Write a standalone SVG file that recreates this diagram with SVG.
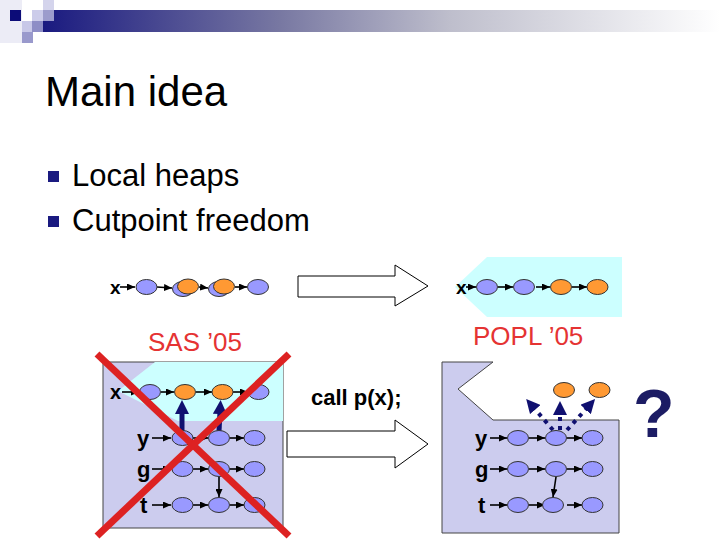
<svg xmlns="http://www.w3.org/2000/svg" width="720" height="540" viewBox="0 0 720 540">
<defs>
<linearGradient id="bar" x1="0" y1="0" x2="1" y2="0">
<stop offset="0" stop-color="#1a1a80"/>
<stop offset="0.35" stop-color="#7878a2"/>
<stop offset="0.6" stop-color="#bebecc"/>
<stop offset="1" stop-color="#ffffff"/>
</linearGradient>
<marker id="ah" markerUnits="userSpaceOnUse" markerWidth="8" markerHeight="7" refX="8" refY="3.5" orient="auto">
<path d="M0,0 L8,3.5 L0,7 z" fill="#000"/>
</marker>
<marker id="nh" markerUnits="userSpaceOnUse" markerWidth="14" markerHeight="14" refX="2" refY="7" orient="auto">
<path d="M0,0 L14,7 L0,14 z" fill="#101070"/>
</marker>
</defs>
<style>
.t{font-family:"Liberation Sans",Arial,sans-serif;fill:#000}
.lb{font-family:"Liberation Sans",Arial,sans-serif;font-weight:bold;font-size:22px;fill:#000}
.p{fill:#9999ff;stroke:#333;stroke-width:1}
.o{fill:#ff9933;stroke:#333;stroke-width:1}
.a{stroke:#000;stroke-width:1.6;fill:none;marker-end:url(#ah)}
.big{fill:#fff;stroke:#000;stroke-width:1}
.thick{stroke:#101070;stroke-width:5;fill:none;marker-end:url(#nh)}
.dot{stroke:#101070;stroke-width:4;stroke-dasharray:4 5;fill:none;marker-end:url(#nh)}
.red{font-family:"Liberation Sans",Arial,sans-serif;font-size:26px;fill:#e53333}
</style>

<!-- header decoration -->
<rect x="0" y="0" width="22" height="43" fill="#ececf6"/>
<rect x="43" y="10" width="677" height="22" fill="url(#bar)"/>
<rect x="10" y="10" width="11" height="11" fill="#0c0c78"/>
<rect x="32" y="10" width="11" height="11" fill="#ccccea"/>
<rect x="43" y="0" width="11" height="10" fill="#d4d4ec"/>
<rect x="43" y="10" width="11" height="11" fill="#9c9ccc"/>
<rect x="22" y="21" width="10" height="11" fill="#c8c8e8"/>
<rect x="32" y="21" width="11" height="11" fill="#8e8ec6"/>
<rect x="22" y="32" width="11" height="11" fill="#9999cc"/>

<text class="t" x="45" y="106" font-size="42">Main idea</text>
<rect x="48" y="171" width="11" height="11" fill="#1a1a80"/>
<text class="t" x="72" y="186" font-size="31">Local heaps</text>
<rect x="48" y="216" width="11" height="11" fill="#1a1a80"/>
<text class="t" x="72" y="231" font-size="31">Cutpoint freedom</text>

<!-- backgrounds -->
<polygon points="455,287 487,257 622,257 622,317 487,317" fill="#ccffff"/>
<rect x="103" y="362" width="180" height="166" fill="#ccccee" stroke="#444" stroke-width="1"/>
<polygon points="155,362 283,362 283,421 178,421 118,391" fill="#ccffff"/>
<polygon points="442,362 493,362 458,389 493,420 619,420 619,533 442,533" fill="#ccccee" stroke="#444" stroke-width="1"/>

<!-- big hollow arrows -->
<polygon class="big" points="298,276 395,276 395,265 428,286 395,306 395,297 298,297"/>
<polygon class="big" points="287,431 395,431 395,420 428,444 395,468 395,457 287,457"/>

<text class="red" x="148" y="351">SAS ’05</text>
<text class="red" x="473" y="345">POPL ’05</text>
<text class="t" x="311" y="405" font-size="22" font-weight="bold">call p(x);</text>
<text class="t" x="633" y="437" font-size="68" font-weight="bold" style="fill:#1c1c64">?</text>

<!-- labels -->
<text class="t" x="110" y="294" font-size="19" font-weight="bold">x</text>
<text class="t" x="456" y="294" font-size="19" font-weight="bold">x</text>
<text class="t" x="110" y="399" font-size="20" font-weight="bold">x</text>
<text class="lb" x="137" y="446">y</text>
<text class="lb" x="137" y="477">g</text>
<text class="lb" x="140" y="513">t</text>
<text class="lb" x="475" y="446">y</text>
<text class="lb" x="475" y="477">g</text>
<text class="lb" x="478" y="513">t</text>

<!-- connectors -->
<g id="connectors">
<line class="a" x1="120" y1="287" x2="135" y2="287"/>
<line class="a" x1="157" y1="287" x2="172" y2="288"/>
<line class="a" x1="199" y1="287" x2="208" y2="288"/>
<line class="a" x1="235" y1="287" x2="247" y2="287"/>
<line class="a" x1="466" y1="287" x2="476" y2="287"/>
<line class="a" x1="498" y1="287" x2="513" y2="287"/>
<line class="a" x1="536" y1="287" x2="550" y2="287"/>
<line class="a" x1="572" y1="287" x2="587" y2="287"/>
<line class="a" x1="122" y1="392" x2="139" y2="392"/>
<line class="a" x1="161" y1="392" x2="174" y2="392"/>
<line class="a" x1="196" y1="392" x2="212" y2="392"/>
<line class="a" x1="233" y1="392" x2="248" y2="392"/>
<line class="a" x1="152" y1="438" x2="171" y2="438"/>
<line class="a" x1="193" y1="438" x2="208" y2="438"/>
<line class="a" x1="230" y1="438" x2="244" y2="438"/>
<line class="a" x1="152" y1="469" x2="171" y2="469"/>
<line class="a" x1="193" y1="469" x2="208" y2="469"/>
<line class="a" x1="230" y1="469" x2="244" y2="469"/>
<line class="a" x1="152" y1="505" x2="171" y2="505"/>
<line class="a" x1="193" y1="505" x2="208" y2="505"/>
<line class="a" x1="230" y1="505" x2="244" y2="505"/>
<line class="a" x1="219" y1="477" x2="219" y2="497"/>
<line class="thick" x1="182" y1="431" x2="182" y2="412"/>
<line class="thick" x1="219" y1="431" x2="220" y2="412"/>
<line class="a" x1="490" y1="438" x2="507" y2="438"/>
<line class="a" x1="529" y1="438" x2="545" y2="438"/>
<line class="a" x1="567" y1="438" x2="582" y2="438"/>
<line class="a" x1="490" y1="469" x2="507" y2="469"/>
<line class="a" x1="529" y1="469" x2="545" y2="469"/>
<line class="a" x1="567" y1="469" x2="582" y2="469"/>
<line class="a" x1="490" y1="505" x2="507" y2="505"/>
<line class="a" x1="529" y1="505" x2="545" y2="505"/>
<line class="a" x1="567" y1="505" x2="582" y2="505"/>
<line class="a" x1="556" y1="477" x2="553" y2="497"/>
<path class="dot" d="M553,430 L534,408"/>
<path class="dot" d="M560,430 L560,413"/>
<path class="dot" d="M567,430 L587,408"/>
</g>

<!-- nodes -->
<g id="top-left-row">
<ellipse class="p" cx="146.5" cy="287" rx="10.5" ry="7.5"/>
<ellipse class="p" cx="183" cy="289" rx="10.5" ry="7.5"/>
<ellipse class="o" cx="188" cy="286.5" rx="10.5" ry="7.5"/>
<ellipse class="p" cx="219" cy="289" rx="10.5" ry="7.5"/>
<ellipse class="o" cx="224" cy="286.5" rx="10.5" ry="7.5"/>
<ellipse class="p" cx="258" cy="287" rx="10.5" ry="7.5"/>
</g>
<g id="top-right-row">
<ellipse class="p" cx="487" cy="287" rx="10.5" ry="7.5"/>
<ellipse class="p" cx="524" cy="287" rx="10.5" ry="7.5"/>
<ellipse class="o" cx="561" cy="287" rx="10.5" ry="7.5"/>
<ellipse class="o" cx="597.5" cy="287" rx="10.5" ry="7.5"/>
</g>
<g id="left-x-row">
<ellipse class="p" cx="150" cy="392" rx="10.5" ry="7.5"/>
<ellipse class="o" cx="185" cy="392" rx="10.5" ry="7.5"/>
<ellipse class="o" cx="222.5" cy="392" rx="10.5" ry="7.5"/>
<ellipse class="p" cx="258.5" cy="392" rx="10.5" ry="7.5"/>
</g>
<g id="left-y-row">
<ellipse class="p" cx="182.5" cy="438" rx="10.5" ry="7.5"/>
<ellipse class="p" cx="219" cy="438" rx="10.5" ry="7.5"/>
<ellipse class="p" cx="254.5" cy="438" rx="10.5" ry="7.5"/>
</g>
<g id="left-g-row">
<ellipse class="p" cx="182.5" cy="469" rx="10.5" ry="7.5"/>
<ellipse class="p" cx="219" cy="469" rx="10.5" ry="7.5"/>
<ellipse class="p" cx="254.5" cy="469" rx="10.5" ry="7.5"/>
</g>
<g id="left-t-row">
<ellipse class="p" cx="182.5" cy="505" rx="10.5" ry="7.5"/>
<ellipse class="p" cx="219" cy="505" rx="10.5" ry="7.5"/>
<ellipse class="p" cx="254.5" cy="505" rx="10.5" ry="7.5"/>
</g>
<g id="right-free-nodes">
<ellipse class="o" cx="564" cy="390" rx="10.5" ry="7.5"/>
<ellipse class="o" cx="599.5" cy="390" rx="10.5" ry="7.5"/>
</g>
<g id="right-y-row">
<ellipse class="p" cx="518" cy="438" rx="10.5" ry="7.5"/>
<ellipse class="p" cx="556" cy="438" rx="10.5" ry="7.5"/>
<ellipse class="p" cx="592.5" cy="438" rx="10.5" ry="7.5"/>
</g>
<g id="right-g-row">
<ellipse class="p" cx="518" cy="469" rx="10.5" ry="7.5"/>
<ellipse class="p" cx="556" cy="469" rx="10.5" ry="7.5"/>
<ellipse class="p" cx="592.5" cy="469" rx="10.5" ry="7.5"/>
</g>
<g id="right-t-row">
<ellipse class="p" cx="518" cy="505" rx="10.5" ry="7.5"/>
<ellipse class="p" cx="553" cy="505" rx="10.5" ry="7.5"/>
<ellipse class="p" cx="592.5" cy="505" rx="10.5" ry="7.5"/>
</g>

<!-- red cross -->
<g id="cross" stroke="#dd2222" stroke-width="7" stroke-linecap="butt">
<line x1="97" y1="354" x2="289" y2="536"/>
<line x1="289" y1="354" x2="97" y2="536"/>
</g>
</svg>
